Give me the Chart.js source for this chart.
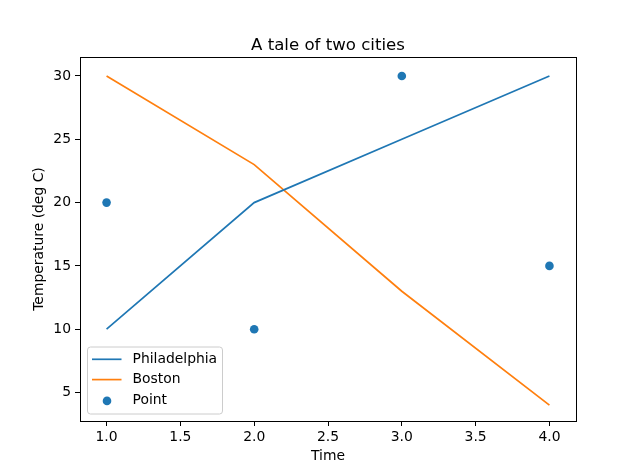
<!DOCTYPE html>
<html>
<head>
<meta charset="utf-8">
<script src="https://cdn.jsdelivr.net/npm/chart.js@4"></script>
<style>
html,body{margin:0;padding:0;background:#fff;}
#wrap{width:640px;height:473px;}
</style>
</head>
<body>
<div id="wrap"><canvas id="c" width="640" height="473"></canvas></div>
<script>
const times = [1, 2, 3, 4];
const philadelphia = [10, 20, 25, 30];
const boston = [30, 23, 13, 4];
const pointX = [1, 2, 3, 4];
const pointY = [20, 10, 30, 15];
const xTicks = [1.0, 1.5, 2.0, 2.5, 3.0, 3.5, 4.0];
const yTicks = [5, 10, 15, 20, 25, 30];
const chartTitle = 'A tale of two cities';

const FONT = "'DejaVu Sans', sans-serif";
const BLUE = '#1f77b4', ORANGE = '#ff7f0e';

const framePlugin = {
  id: 'frame',
  afterDraw(chart) {
    const {ctx, chartArea: a} = chart;
    ctx.save();
    ctx.strokeStyle = '#000';
    ctx.lineWidth = 1;
    ctx.strokeRect(Math.round(a.left) + 0.5, Math.round(a.top) + 0.5, Math.round(a.right - a.left), Math.round(a.bottom - a.top));
    ctx.fillStyle = '#000';
    ctx.font = '16.6px ' + FONT;
    ctx.textAlign = 'center';
    ctx.textBaseline = 'alphabetic';
    ctx.fillText(chartTitle, (a.left + a.right) / 2, a.top - 7);
    ctx.restore();
  }
};

const legendPlugin = {
  id: 'mplLegend',
  afterDatasetsDraw(chart) {
    const {ctx, chartArea: a} = chart;
    const ds = chart.data.datasets;
    const left = a.left + 7.5, bottom = a.bottom - 7, w = 135, rowH = 20.3;
    const h = 67;
    const top = bottom - h;
    ctx.save();
    ctx.fillStyle = 'rgba(255,255,255,0.8)';
    ctx.strokeStyle = '#cccccc';
    ctx.lineWidth = 1;
    const r = 3;
    ctx.beginPath();
    ctx.moveTo(left + r, top);
    ctx.lineTo(left + w - r, top); ctx.arcTo(left + w, top, left + w, top + r, r);
    ctx.lineTo(left + w, top + h - r); ctx.arcTo(left + w, top + h, left + w - r, top + h, r);
    ctx.lineTo(left + r, top + h); ctx.arcTo(left, top + h, left, top + h - r, r);
    ctx.lineTo(left, top + r); ctx.arcTo(left, top, left + r, top, r);
    ctx.closePath();
    ctx.fill(); ctx.stroke();
    ctx.font = '13.9px ' + FONT;
    ctx.textBaseline = 'middle';
    ds.forEach((d, i) => {
      const cy = top + 12.3 + i * rowH;
      if (d.showLine === false) {
        ctx.fillStyle = d.backgroundColor;
        ctx.beginPath(); ctx.arc(left + 19.5, cy + 1, 4.3, 0, Math.PI * 2); ctx.fill();
      } else {
        ctx.strokeStyle = d.borderColor; ctx.lineWidth = 1.7;
        ctx.beginPath(); ctx.moveTo(left + 4.5, cy); ctx.lineTo(left + 34, cy); ctx.stroke();
      }
      ctx.fillStyle = '#000';
      ctx.fillText(d.label, left + 45, cy);
    });
    ctx.restore();
  }
};

new Chart(document.getElementById('c'), {
  type: 'scatter',
  data: {
    datasets: [
      {label: 'Philadelphia', data: times.map((t, i) => ({x: t, y: philadelphia[i]})), showLine: true,
       borderColor: BLUE, backgroundColor: BLUE, borderWidth: 1.7, pointRadius: 0, pointHoverRadius: 0, tension: 0},
      {label: 'Boston', data: times.map((t, i) => ({x: t, y: boston[i]})), showLine: true,
       borderColor: ORANGE, backgroundColor: ORANGE, borderWidth: 1.7, pointRadius: 0, pointHoverRadius: 0, tension: 0},
      {label: 'Point', data: pointX.map((t, i) => ({x: t, y: pointY[i]})), showLine: false,
       borderColor: BLUE, backgroundColor: BLUE, borderWidth: 0, pointRadius: 4.3, pointHoverRadius: 4.3}
    ]
  },
  options: {
    responsive: false,
    animation: false,
    layout: {padding: {top: 57, right: 64, bottom: 0, left: 0}},
    plugins: {
      legend: {display: false},
      tooltip: {enabled: false},
      title: {display: false}
    },
    scales: {
      x: {
        type: 'linear', min: 0.82, max: 4.18,
        afterBuildTicks: s => { s.ticks = xTicks.map(v => ({value: v})); },
        afterFit: s => { s.height = 52; },
        ticks: {color: '#000', font: {family: FONT, size: 13.9}, padding: 3, maxRotation: 0,
                callback: v => Number(v).toFixed(1)},
        grid: {drawOnChartArea: false, drawTicks: true, tickLength: 5, color: '#000', tickWidth: 1},
        border: {display: false},
        title: {display: true, text: 'Time', color: '#000', font: {family: FONT, size: 13.9, lineHeight: 1.2},
                padding: {top: 0, bottom: 8}}
      },
      y: {
        type: 'linear', min: 2.75, max: 31.5,
        afterBuildTicks: s => { s.ticks = yTicks.map(v => ({value: v})); },
        afterFit: s => { s.width = 80; },
        ticks: {color: '#000', font: {family: FONT, size: 13.9}, padding: 4},
        grid: {drawOnChartArea: false, drawTicks: true, tickLength: 5, color: '#000', tickWidth: 1},
        border: {display: false},
        title: {display: true, text: 'Temperature (deg C)', color: '#000', font: {family: FONT, size: 13.9, lineHeight: 1.2},
                padding: {top: 31, bottom: 0}}
      }
    }
  },
  plugins: [framePlugin, legendPlugin]
});
</script>
</body>
</html>
